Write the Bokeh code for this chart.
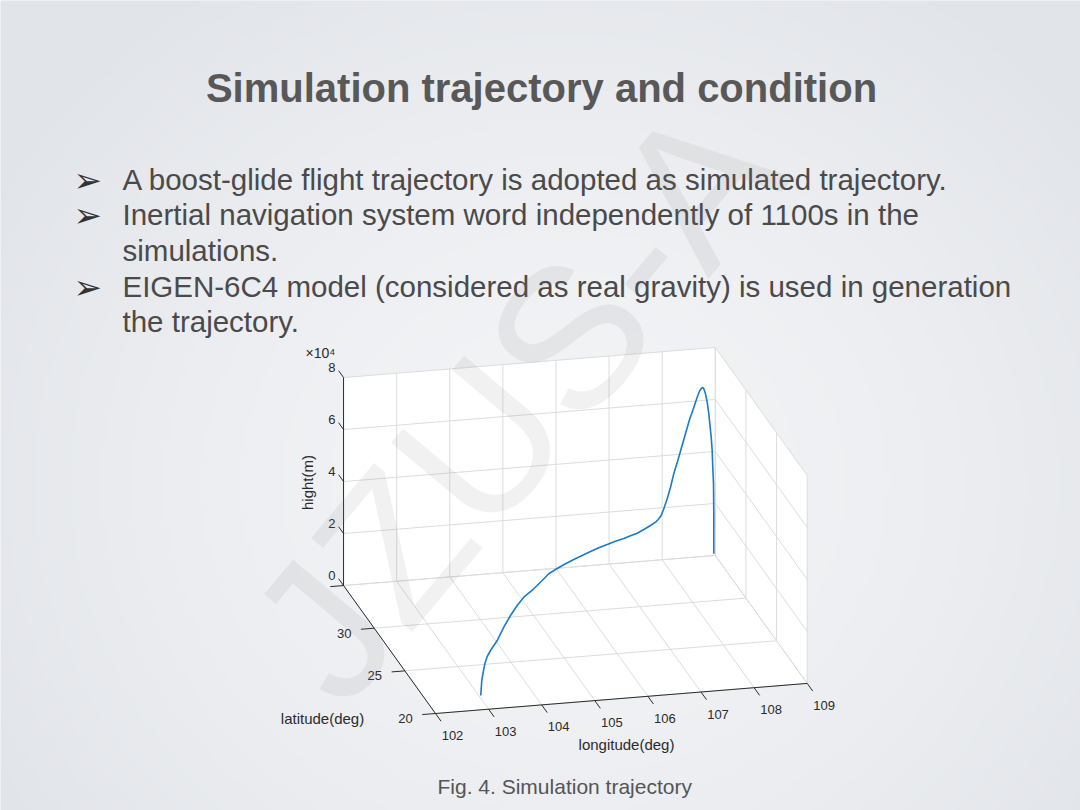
import math
import numpy as np
from bokeh.plotting import figure
from bokeh.models import Range1d
from bokeh.embed import file_html
from bokeh.resources import INLINE
from bokeh.core.properties import value

# ---------------------------------------------------------------- data
# simulated boost-glide trajectory: longitude (deg), latitude (deg), height (m)
lon = [108.961, 108.960, 108.952, 108.935, 108.919, 108.895, 108.862, 108.836,
       108.796, 108.755, 108.713, 108.685, 108.650, 108.605, 108.553, 108.492,
       108.421, 108.344, 108.273, 108.199, 108.110, 108.018, 107.911, 107.818,
       107.726, 107.635, 107.564, 107.500, 107.418, 107.310, 107.163, 107.018,
       106.885, 106.748, 106.582, 106.409, 106.234, 106.056, 105.873, 105.689,
       105.507, 105.322, 105.131, 104.958, 104.736, 104.487, 104.303, 104.106,
       103.897, 103.683, 103.495, 103.400, 103.314, 103.231, 103.153, 103.086,
       103.036]
lat = [34.900, 34.890, 34.870, 34.840, 34.800, 34.750, 34.690, 34.630,
       34.550, 34.470, 34.380, 34.300, 34.210, 34.100, 33.970, 33.820,
       33.650, 33.470, 33.280, 33.080, 32.850, 32.600, 32.330, 32.060,
       31.800, 31.570, 31.380, 31.214, 31.039, 30.920, 30.739, 30.561,
       30.506, 30.411, 30.330, 30.183, 30.037, 29.845, 29.621, 29.397,
       29.168, 28.923, 28.642, 28.218, 27.662, 27.138, 26.623, 26.008,
       25.290, 24.509, 23.980, 23.691, 23.336, 22.880, 22.434, 21.952,
       21.588]
hgt = [1030, 16450, 28070, 34580, 41160, 46480, 51880, 55970,
       60760, 64320, 66610, 67410, 67500, 67050, 65640, 63660,
       61140, 58660, 55940, 53100, 49540, 46020, 41960, 37850,
       34390, 31450, 29620, 29000, 28400, 27700, 27000, 26400,
       25800, 25300, 24800, 24300, 23800, 23300, 22800, 22300,
       21700, 21000, 20200, 19300, 18300, 17200, 16000, 14500,
       12700, 10500, 8700, 7500, 6000, 4400, 2800, 1300,
       0]

lon_ticks = [102, 103, 104, 105, 106, 107, 108, 109]
lat_ticks = [20, 25, 30, 35]
lat_tick_labels = ["20", "25", "30"]          # 35 sits at the back corner, unlabelled
hgt_ticks = [0, 20000, 40000, 60000, 80000]
hgt_tick_labels = ["0", "2", "4", "6", "8"]

title_text = "Simulation trajectory and condition"
bullet_lines = [
    "A boost-glide flight trajectory is adopted as simulated trajectory.",
    "Inertial navigation system word independently of 1100s in the",
    "simulations.",
    "EIGEN-6C4 model (considered as real gravity) is used in generation",
    "the trajectory.",
]
bullet_marks = [True, True, False, True, False]
caption_text = "Fig. 4. Simulation trajectory"

# ---------------------------------------------------------------- page
W, H = 1080, 810
LON0, LON1 = lon_ticks[0], lon_ticks[-1]
LAT0, LAT1 = lat_ticks[0], lat_ticks[-1]
H0, H1 = hgt_ticks[0], hgt_ticks[-1]

# parallel projection of the 3-D axes box onto the page (pixels, y downward)
ORIGIN = (435.0, 713.0)          # screen point of (LON0, LAT0, H0)
E_LON = (53.1, -4.3)             # per degree of longitude
E_LAT = (-6.13, -8.53)           # per degree of latitude
E_HGT = (0.0, -26.0e-4)          # per metre of height


def proj(lo, la, h):
    lo = np.asarray(lo, float) - LON0
    la = np.asarray(la, float) - LAT0
    h = np.asarray(h, float) - H0
    sx = ORIGIN[0] + lo * E_LON[0] + la * E_LAT[0] + h * E_HGT[0]
    sy = ORIGIN[1] + lo * E_LON[1] + la * E_LAT[1] + h * E_HGT[1]
    return sx, H - sy


def seg(a, b):
    x0, y0 = proj(*a)
    x1, y1 = proj(*b)
    return [float(x0), float(x1)], [float(y0), float(y1)]


p = figure(width=W, height=H, x_range=Range1d(0, W), y_range=Range1d(0, H),
           output_backend="svg", toolbar_location=None, min_border=0,
           x_axis_type=None, y_axis_type=None)
p.grid.visible = False
p.outline_line_color = None
p.background_fill_color = "#e9ebef"
p.border_fill_color = "#e9ebef"

# soft slide background
ny, nx = 162, 216
gy, gx = np.mgrid[0:ny, 0:nx]
cx, cy = nx * 0.52, ny * 0.40
r = np.sqrt(((gx - cx) / (nx * 0.62)) ** 2 + ((gy - cy) / (ny * 0.75)) ** 2)
t = np.clip(r, 0, 1) ** 1.6
c_in = np.array([243, 244, 246])
c_out = np.array([225, 228, 233])
rgb = c_in[None, None, :] * (1 - t[..., None]) + c_out[None, None, :] * t[..., None]
img = np.empty((ny, nx), dtype=np.uint32)
view = img.view(dtype=np.uint8).reshape((ny, nx, 4))
view[..., 0] = rgb[..., 0].astype(np.uint8)
view[..., 1] = rgb[..., 1].astype(np.uint8)
view[..., 2] = rgb[..., 2].astype(np.uint8)
view[..., 3] = 255
p.image_rgba(image=[img], x=0, y=0, dw=W, dh=H)

# ---------------------------------------------------------------- 3-D axes
# white panes: back wall, right wall, floor
panes = [
    [(LON0, LAT1, H0), (LON1, LAT1, H0), (LON1, LAT1, H1), (LON0, LAT1, H1)],
    [(LON1, LAT0, H0), (LON1, LAT1, H0), (LON1, LAT1, H1), (LON1, LAT0, H1)],
    [(LON0, LAT0, H0), (LON1, LAT0, H0), (LON1, LAT1, H0), (LON0, LAT1, H0)],
]
pxs, pys = [], []
for pane in panes:
    arr = np.array(pane, float)
    sx, sy = proj(arr[:, 0], arr[:, 1], arr[:, 2])
    pxs.append([float(v) for v in sx])
    pys.append([float(v) for v in sy])
p.patches(pxs, pys, fill_color="white", line_color=None)

# grid lines
gxs, gys = [], []
for lo in lon_ticks:
    for a, b in [((lo, LAT1, H0), (lo, LAT1, H1)), ((lo, LAT0, H0), (lo, LAT1, H0))]:
        xs, ys = seg(a, b)
        gxs.append(xs); gys.append(ys)
for la in lat_ticks:
    for a, b in [((LON1, la, H0), (LON1, la, H1)), ((LON0, la, H0), (LON1, la, H0))]:
        xs, ys = seg(a, b)
        gxs.append(xs); gys.append(ys)
for h in hgt_ticks:
    for a, b in [((LON0, LAT1, h), (LON1, LAT1, h)), ((LON1, LAT0, h), (LON1, LAT1, h))]:
        xs, ys = seg(a, b)
        gxs.append(xs); gys.append(ys)
p.multi_line(gxs, gys, line_color="#dcdcdc", line_width=1)

# axis lines and tick marks
axc = "#2b2b2b"
axs, ays = [], []
for a, b in [((LON0, LAT1, H0), (LON0, LAT1, H1)),
             ((LON0, LAT0, H0), (LON0, LAT1, H0)),
             ((LON0, LAT0, H0), (LON1, LAT0, H0))]:
    xs, ys = seg(a, b)
    axs.append(xs); ays.append(ys)
for h in hgt_ticks:
    xs, ys = seg((LON0, LAT1, h), (LON0, LAT1 + 0.8, h))
    axs.append(xs); ays.append(ys)
for la in lat_ticks:
    xs, ys = seg((LON0, la, H0), (LON0 - 0.25, la, H0))
    axs.append(xs); ays.append(ys)
for lo in lon_ticks:
    xs, ys = seg((lo, LAT0, H0), (lo, LAT0 - 0.9, H0))
    axs.append(xs); ays.append(ys)
p.multi_line(axs, ays, line_color=axc, line_width=1)

# tick labels
TF = value("Liberation Sans")
tx, ty = proj([LON0] * len(hgt_ticks), [LAT1] * len(hgt_ticks), hgt_ticks)
p.text(x=tx - 8, y=ty + 10, text=hgt_tick_labels, text_font=TF,
       text_font_size="13px", text_color=axc, text_align="right",
       text_baseline="middle")
nl = len(lat_tick_labels)
tx, ty = proj([LON0] * nl, lat_ticks[:nl], [H0] * nl)
p.text(x=tx - 30, y=ty - 5, text=lat_tick_labels,
       text_font=TF, text_font_size="13px", text_color=axc,
       text_align="center", text_baseline="middle")
tx, ty = proj(lon_ticks, [LAT0] * len(lon_ticks), [H0] * len(lon_ticks))
p.text(x=tx + 17, y=ty - 22, text=[str(v) for v in lon_ticks], text_font=TF,
       text_font_size="13px", text_color=axc, text_align="center",
       text_baseline="middle")

# axis titles and exponent
p.text(x=[320], y=[H - 352], text=["×10⁴"], text_font=TF, text_font_size="14px",
       text_color=axc, text_align="center", text_baseline="middle")
p.text(x=[307], y=[H - 482], text=["hight(m)"], angle=math.pi / 2, text_font=TF,
       text_font_size="15px", text_color=axc, text_align="center",
       text_baseline="middle")
p.text(x=[322], y=[H - 718], text=["latitude(deg)"], text_font=TF,
       text_font_size="15px", text_color=axc, text_align="center",
       text_baseline="middle")
p.text(x=[626], y=[H - 744], text=["longitude(deg)"], text_font=TF,
       text_font_size="15px", text_color=axc, text_align="center",
       text_baseline="middle")

# trajectory
sx, sy = proj(lon, lat, hgt)
p.line(sx, sy, line_color="#1a7cc6", line_width=1.6)

# ---------------------------------------------------------------- slide text
p.text(x=[541], y=[H - 87], text=[title_text], text_font=TF,
       text_font_style="bold", text_font_size="40px", text_color="#585858",
       text_align="center", text_baseline="alphabetic")

base = [179, 214, 250, 286, 321]
p.text(x=[122] * len(bullet_lines), y=[H - b for b in base], text=bullet_lines,
       text_font=TF, text_font_size="29.5px", text_color="#4a4a4a",
       text_align="left", text_baseline="alphabetic")
mark_y = [H - b for b, m in zip(base, bullet_marks) if m]
p.text(x=[73] * len(mark_y), y=mark_y, text=["➢"] * len(mark_y),
       text_font=value("DejaVu Sans"), text_font_size="34px",
       text_color="#333333", text_align="left", text_baseline="alphabetic")

p.text(x=[437], y=[H - 786], text=[caption_text], text_font=TF,
       text_font_size="21px", text_color="#555555", text_align="left",
       text_baseline="alphabetic")

# faint watermark lettering laid over the slide
p.text(x=[515.0], y=[float(H - 400)], text=["JZUS-A"],
       angle=float(math.radians(50.0)),
       text_font=TF, text_font_size="150pt",
       text_color="#808080", text_alpha=0.11, text_align="center",
       text_baseline="middle")

open("out.html", "w").write(file_html(p, INLINE))
